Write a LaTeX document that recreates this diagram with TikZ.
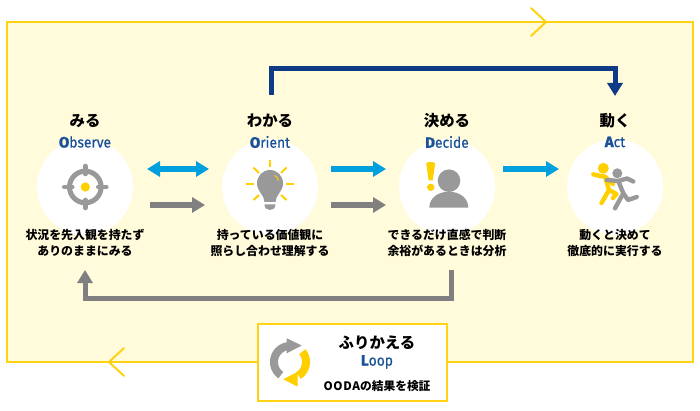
\documentclass[tikz,border=0pt]{standalone}
\usepackage{fontspec}
\usetikzlibrary{arrows.meta}
\setmainfont{Noto Sans CJK JP}
\newfontfamily\latinf[FakeStretch=0.92,FakeBold=0.6]{Fira Sans}
\newfontfamily\latinb[FakeStretch=1.0,FakeBold=1.6]{Fira Sans Bold}
\definecolor{fr}{HTML}{FFD314}
\definecolor{bg}{HTML}{FFFBDB}
\definecolor{blu}{HTML}{009FDE}
\definecolor{gra}{HTML}{808080}
\definecolor{icg}{HTML}{999999}
\definecolor{yel}{HTML}{FFCF00}
\definecolor{nav}{HTML}{0F3A85}
\definecolor{eng}{HTML}{1A5296}
\tikzset{
 disc/.style={circle,fill=white,minimum size=96pt,inner sep=0pt},
 head/.style={font=\fontsize{15.4}{18}\selectfont\bfseries,text=black,inner sep=0pt},
 engl/.style={font=\fontsize{15}{16}\selectfont\latinf,text=eng,inner sep=0pt},
 body/.style={font=\fontsize{11.9}{16}\selectfont\bfseries,text=black,align=center,inner sep=0pt},
 arr/.style={line width=5.5pt,-{Triangle[length=13pt,width=15pt]}},
 darr/.style={line width=5.5pt,{Triangle[length=13pt,width=15pt]}-{Triangle[length=13pt,width=15pt]}},
 chev/.style={draw=fr,line width=2pt,line cap=round,line join=miter},
 ray/.style={draw=yel,line width=2pt},
 lim/.style={line width=4.4pt,line cap=round,line join=round},
}
\begin{document}
\begin{tikzpicture}[x=1pt,y=-1pt]
\useasboundingbox (0,0) rectangle (700,411);
\fill[white] (0,0) rectangle (700,411);
\draw[fr,line width=2.5pt,fill=bg] (7,22) rectangle (693,362);
\draw[chev] (531,8) -- (546,22) -- (531,36);
\draw[chev] (124,348) -- (109,362) -- (124,376);
% discs
\node[disc] (obs) at (85,187) {};
\node[disc] (ori) at (270,187) {};
\node[disc] (dec) at (447,187) {};
\node[disc] (act) at (615,187) {};
% titles
\node[head] (t1) at (85,121) {みる};
\node[head] (t2) at (270,121) {わかる};
\node[head] (t3) at (447,121) {決める};
\node[head] (t4) at (615,121) {動く};
\node[engl] (e1) at (85,142) {{\latinb O}bserve};
\node[engl] (e2) at (270,142) {{\latinb O}rient};
\node[engl] (e3) at (447,142) {{\latinb D}ecide};
\node[engl] (e4) at (615,142) {{\latinb A}ct};
\node[body] (d1) at (85,243) {状況を先入観を持たず\\ありのままにみる};
\node[body] (d2) at (270,243) {持っている価値観に\\照らし合わせ理解する};
\node[body] (d3) at (447,243) {できるだけ直感で判断\\余裕があるときは分析};
\node[body] (d4) at (615,243) {動くと決めて\\徹底的に実行する};
% connector ends
\coordinate (a1) at (147,169); \coordinate (a2) at (209,169);
\coordinate (b1) at (150,205); \coordinate (b2) at (205,205);
\coordinate (c1) at (331,169); \coordinate (c2) at (386,169);
\coordinate (f1) at (331,205); \coordinate (f2) at (386,205);
\coordinate (g1) at (503,169); \coordinate (g2) at (559,169);
\coordinate (n1) at (271.5,95); \coordinate (n2) at (271.5,68.5); \coordinate (n3) at (615,68.5); \coordinate (n4) at (615,96);
\coordinate (l1) at (451,270); \coordinate (l2) at (451,298); \coordinate (l3) at (85,298); \coordinate (l4) at (85,270);
\draw[darr,blu] (a1) -- (a2);
\draw[arr,gra] (b1) -- (b2);
\draw[arr,blu] (c1) -- (c2);
\draw[arr,gra] (f1) -- (f2);
\draw[arr,blu] (g1) -- (g2);
\draw[arr,nav,line width=5pt] (n1) -- (n2) -- (n3) -- (n4);
\draw[arr,gra,line width=5pt] (l1) -- (l2) -- (l3) -- (l4);
% target icon
\draw[icg,line width=5pt] (85.3,187) circle[radius=15.8pt];
\foreach \dx/\dy in {1/0,-1/0,0/1,0/-1}
  \draw[icg,line width=4.6pt,line cap=round] ({85.3+\dx*21},{187+\dy*21}) -- ({85.3+\dx*13},{187+\dy*13});
\fill[yel] (85.3,187) circle[radius=4.6pt];
% bulb icon
\foreach \xa/\ya/\xb/\yb in {270/160/270/167,246/184/254/184,286/184/294/184,253.5/167.5/259/173,286.5/167.5/281/173,253.5/200/259/195,286.5/200/281/195}
  \draw[ray] (\xa,\ya) -- (\xb,\yb);
\fill[icg] (270,170) .. controls (262.5,170) and (257,176) .. (257,183.5)
  .. controls (257,191.5) and (264.5,195) .. (264.5,202) -- (275.5,202)
  .. controls (275.5,195) and (283,191.5) .. (283,183.5)
  .. controls (283,176) and (277.5,170) .. (270,170) -- cycle;
\fill[icg] (264.5,204.5) -- (275.5,204.5) .. controls (275.5,208) and (273,210) .. (270,210) .. controls (267,210) and (264.5,208) .. (264.5,204.5) -- cycle;
\draw[yel,line width=1pt] (274.5,175.5) .. controls (276.5,176) and (278,178) .. (278.5,180.5);
% person icon
\fill[icg] (449,180.7) circle[radius=11.3pt];
\fill[icg] (429.3,207.7) .. controls (429.3,198) and (438,191.7) .. (448.8,191.7) .. controls (459.6,191.7) and (468.3,198) .. (468.3,207.7) -- cycle;
\fill[yel] (426.2,163.5) .. controls (426.2,161.5) and (435.2,161.5) .. (435.2,163.5) -- (432.7,180.5) -- (428.7,180.5) -- cycle;
\fill[yel] (430.7,187.3) circle[radius=3.7pt];
% runners
\begin{scope}[lim]
\fill[yel] (603.3,168.3) circle[radius=5.5pt];
\draw[yel] (593.3,174.3) -- (600,176) -- (605,176.7) -- (609,190) -- (616.5,194) -- (613,198);
\draw[yel] (609,190) -- (601.5,203);
\draw[yel] (605,176.7) -- (613,184);
\end{scope}
\begin{scope}[lim]
\fill[icg] (617.3,173.3) circle[radius=5pt];
\draw[icg] (606.7,180) -- (618.3,181) -- (623.3,193.3) -- (628,200) -- (636.7,197);
\draw[icg] (623.3,193.3) -- (615,208.3);
\draw[icg] (618.3,181) -- (627,178.5) -- (633.3,181.5);
\end{scope}
% loop box
\draw[fr,line width=2.5pt,fill=white] (258,324) rectangle (447,401);
\draw[icg,line width=8pt] plot[domain=125:268,samples=30] ({290+16*cos(\x)},{362+16*sin(\x)});
\fill[icg] (301.7,345.5) -- (286.7,338.3) -- (286.7,353.3) -- cycle;
\draw[yel,line width=8pt] plot[domain=-40:58,samples=30] ({290+16*cos(\x)},{362+16*sin(\x)});
\fill[yel] (283.3,379.3) -- (297.7,371.7) -- (297.7,386.7) -- cycle;
\node[head] (t5) at (377,343) {ふりかえる};
\node[engl] (e5) at (377,362) {{\latinb L}oop};
\node[body,font=\fontsize{11.7}{14}\selectfont\bfseries] (d5) at (377,386) {{\addfontfeature{LetterSpace=6}OODA}の結果を検証};
\end{tikzpicture}
\end{document}
